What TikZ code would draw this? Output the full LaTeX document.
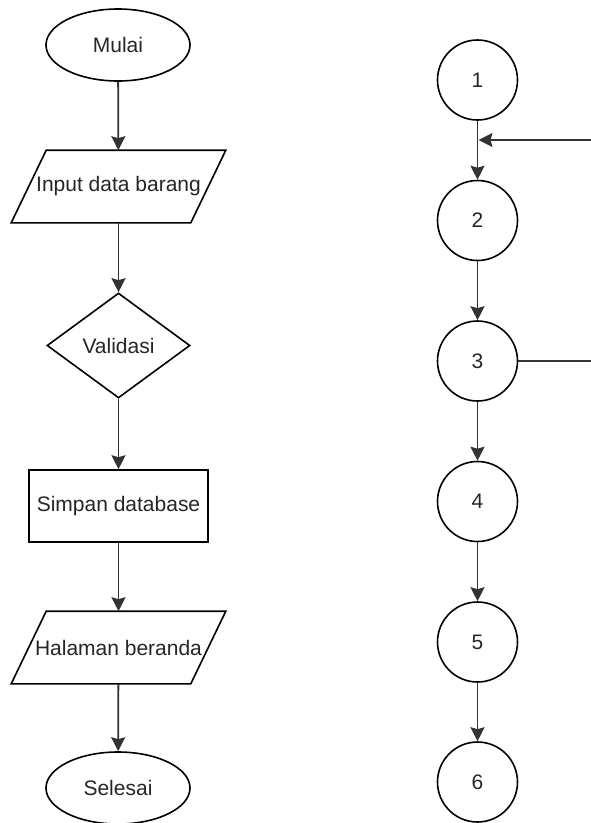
\documentclass[tikz,border=0pt]{standalone}
\usepackage{fontspec}
\setmainfont{Liberation Sans}
\usetikzlibrary{shapes.geometric,arrows.meta}
\begin{document}
\begin{tikzpicture}[x=1pt,y=-1pt,
  every node/.style={font=\fontsize{21}{25}\selectfont, text=black!85, line width=1.6pt, inner sep=0pt},
  outline/.style={draw, line width=1.6pt, line join=miter},
  terminal/.style={draw, ellipse, minimum width=144, minimum height=72},
  io/.style={rectangle, minimum width=213, minimum height=71},
  decision/.style={draw, diamond, minimum width=143, minimum height=105},
  process/.style={draw, rectangle, minimum width=179, minimum height=72},
  stepcircle/.style={draw, circle, minimum size=80},
  flow/.style={draw=black!80, line width=1.8pt, -{Stealth[length=14pt,width=14pt,inset=2pt]}},
  plain/.style={draw=black!80, line width=1.8pt}
]
  \fill[white] (0,0) rectangle (591,823);
  \useasboundingbox (0,0) rectangle (591,823);

  % flowchart
  \node[terminal] (mulai)   at (118,45)    {Mulai};
  \node[io]       (input)   at (118.5,186.5) {Input data barang};
  \node[decision] (valid)   at (118.5,345.5) {Validasi};
  \node[process]  (simpan)  at (118.5,506)  {Simpan database};
  \node[io]       (beranda) at (118.5,647.5) {Halaman beranda};
  \node[terminal] (selesai) at (118,788)   {Selesai};

  % parallelogram outlines of the input/output steps
  \foreach \p in {input,beranda}
    \draw[outline] ([xshift=35pt]\p.north west) -- (\p.north east)
      -- ([xshift=-35pt]\p.south east) -- (\p.south west) -- cycle;

  \draw[flow] (mulai) -- (input);
  \draw[flow] (input) -- (valid);
  \draw[flow] (valid) -- (simpan);
  \draw[flow] (simpan) -- (beranda);
  \draw[flow] (beranda) -- (selesai);

  % flow graph
  \node[stepcircle] (n1) at (477.5,80)    {1};
  \node[stepcircle] (n2) at (477.5,220.5) {2};
  \node[stepcircle] (n3) at (477.5,361)   {3};
  \node[stepcircle] (n4) at (477.5,501.5) {4};
  \node[stepcircle] (n5) at (477.5,642)   {5};
  \node[stepcircle] (n6) at (477.5,782)   {6};

  \draw[flow] (n1) -- (n2);
  \draw[flow] (n2) -- (n3);
  \draw[flow] (n3) -- (n4);
  \draw[flow] (n4) -- (n5);
  \draw[flow] (n5) -- (n6);

  \coordinate (backin)  at (591,140);
  \coordinate (join)    at (478.5,140);
  \coordinate (backout) at (591,361);
  \draw[flow] (backin) -- (join);
  \draw[plain] (n3.east) -- (backout);
\end{tikzpicture}
\end{document}
